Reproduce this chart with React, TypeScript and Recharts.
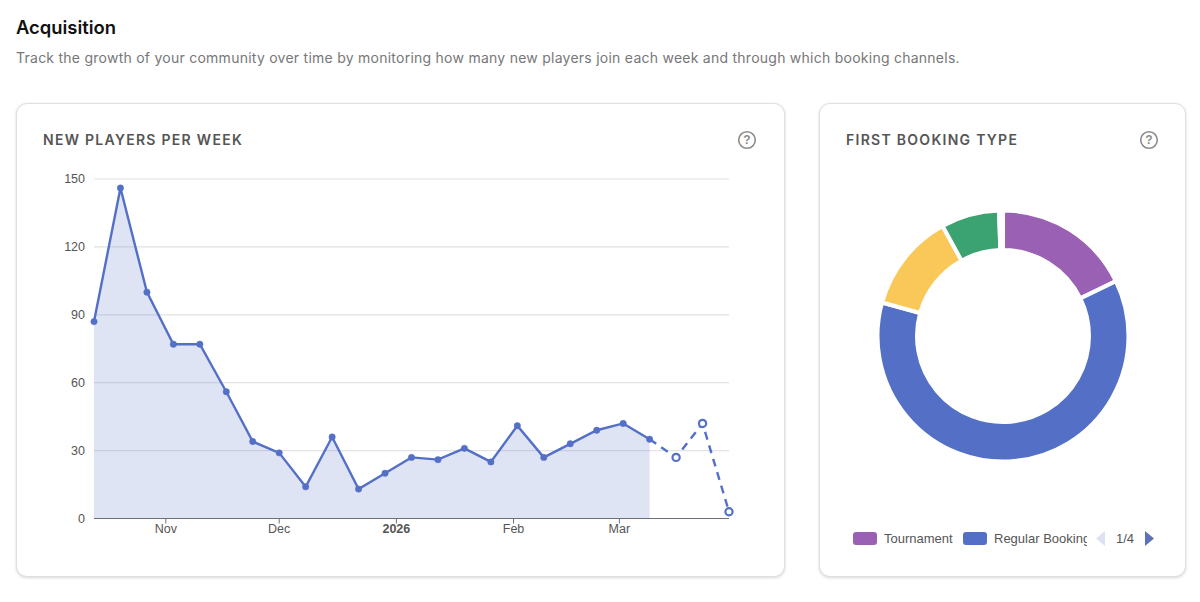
import {
  Area,
  CartesianGrid,
  Cell,
  ComposedChart,
  Line,
  Pie,
  PieChart,
  XAxis,
  YAxis
} from "recharts"

const weeks = [
  "2025-10-13", "2025-10-20", "2025-10-27", "2025-11-03", "2025-11-10",
  "2025-11-17", "2025-11-24", "2025-12-01", "2025-12-08", "2025-12-15",
  "2025-12-22", "2025-12-29", "2026-01-05", "2026-01-12", "2026-01-19",
  "2026-01-26", "2026-02-02", "2026-02-09", "2026-02-16", "2026-02-23",
  "2026-03-02", "2026-03-09", "2026-03-16", "2026-03-23", "2026-03-30",
]
const actualPlayers = [87, 146, 100, 77, 77, 56, 34, 29, 14, 36, 13, 20, 27, 26, 31, 25, 41, 27, 33, 39, 42, 35, null, null, null]
const projectedPlayers = [null, null, null, null, null, null, null, null, null, null, null, null, null, null, null, null, null, null, null, null, null, 35, 27, 42, 3]

const monthTicks = ["2025-11-01", "2025-12-01", "2026-01-01", "2026-02-01", "2026-03-01"]
const monthLabels = ["Nov", "Dec", "2026", "Feb", "Mar"]
const yTicks = [0, 30, 60, 90, 120, 150]

const bookingNames = ["Tournament", "Regular Booking", "Open Match", "Lesson", "Other"]
const bookingValues = [178, 615, 127, 75, 5]
const bookingColors = ["#9a60b4", "#5470c6", "#fac858", "#3ba272", "#ea7ccc"]

const toTime = (d: string) => new Date(d + "T00:00:00Z").getTime()

const playerData = weeks.map((w, i) => ({
  date: toTime(w),
  actual: actualPlayers[i],
  projected: projectedPlayers[i],
}))
const bookingData = bookingNames.map((name, i) => ({ name, value: bookingValues[i] }))
const tickTimes = monthTicks.map(toTime)

const FONT = "Inter, sans-serif"
const AXIS_FONT = "'Liberation Sans', Arial, sans-serif"
const BLUE = "#5470c6"

const cardStyle = (left: number, width: number): React.CSSProperties => ({
  position: "absolute",
  left,
  top: 103,
  width,
  height: 474,
  boxSizing: "border-box",
  background: "#fff",
  border: "1px solid #e0e0e0",
  borderRadius: 11,
  boxShadow: "0 1px 3px rgba(0,0,0,0.16)",
})

const cardTitle: React.CSSProperties = {
  position: "absolute",
  top: 27,
  fontFamily: FONT,
  fontSize: 14,
  lineHeight: "18px",
  fontWeight: 600,
  letterSpacing: 1.28,
  color: "#555",
  whiteSpace: "nowrap",
}

function HelpIcon({ left }: { left: number }) {
  return (
    <svg width={20} height={20} style={{ position: "absolute", left, top: 26 }}>
      <circle cx={10} cy={10} r={8.3} fill="none" stroke="#8c8c8c" strokeWidth={1.6} />
      <text x={10} y={14.2} textAnchor="middle" fontFamily={AXIS_FONT} fontSize={12} fontWeight={700} fill="#8c8c8c">?</text>
    </svg>
  )
}

function MonthTick({ x, y, payload }: any) {
  const label = monthLabels[tickTimes.indexOf(payload.value)]
  return (
    <text
      x={x}
      y={y + 4}
      textAnchor="middle"
      fontFamily={AXIS_FONT}
      fontSize={12.5}
      fontWeight={label === "2026" ? 700 : 400}
      fill="#555"
    >
      {label}
    </text>
  )
}

// the first projected point is where the actual line ends, so it keeps the filled dot
function ProjectedDot({ cx, cy, index }: any) {
  if (playerData[index].actual != null) return <g key={index} />
  return <circle key={index} cx={cx} cy={cy} r={3.6} fill="#fff" stroke={BLUE} strokeWidth={2.2} />
}

function NewPlayersChart() {
  return (
    <ComposedChart
      width={768}
      height={474}
      data={playerData}
      margin={{ top: 76, right: 55, bottom: 28.5, left: 38 }}
      style={{ position: "absolute", left: -1, top: -1 }}
    >
      <CartesianGrid horizontal vertical={false} stroke="#e2e2e6" strokeWidth={1.2} />
      <XAxis
        dataKey="date"
        type="number"
        scale="time"
        domain={["dataMin", "dataMax"]}
        ticks={tickTimes}
        interval={0}
        height={30}
        tick={<MonthTick />}
        tickSize={5}
        tickMargin={5}
        stroke="#6e7079"
      />
      <YAxis
        domain={[0, 150]}
        ticks={yTicks}
        width={40}
        axisLine={false}
        tickLine={false}
        tickSize={0}
        tickMargin={9}
        tick={{ fill: "#555", fontSize: 12.5, fontFamily: AXIS_FONT }}
      />
      <Line
        dataKey="projected"
        stroke={BLUE}
        strokeWidth={2.4}
        strokeDasharray="8 6"
        dot={(props: any) => <ProjectedDot key={props.index} {...props} />}
        isAnimationActive={false}
      />
      <Area
        dataKey="actual"
        type="linear"
        stroke={BLUE}
        strokeWidth={2.4}
        fill={BLUE}
        fillOpacity={0.19}
        dot={{ r: 3.2, fill: BLUE, stroke: BLUE, strokeWidth: 0.5, fillOpacity: 1 }}
        isAnimationActive={false}
      />
    </ComposedChart>
  )
}

function BookingDonut() {
  return (
    <PieChart
      width={365}
      height={474}
      margin={{ top: 0, right: 0, bottom: 0, left: 0 }}
      style={{ position: "absolute", left: -1, top: -1 }}
    >
      <Pie
        data={bookingData}
        dataKey="value"
        nameKey="name"
        cx={184}
        cy={233}
        innerRadius={86}
        outerRadius={125.5}
        startAngle={90}
        endAngle={-270}
        stroke="#fff"
        strokeWidth={4}
        isAnimationActive={false}
      >
        {bookingData.map((d, i) => (
          <Cell key={d.name} fill={bookingColors[i]} stroke="#fff" strokeWidth={4} />
        ))}
      </Pie>
    </PieChart>
  )
}

function BookingLegend() {
  const swatchLefts = [33, 143]
  const labelWidths = [72, 93]
  return (
    <div style={{ position: "absolute", left: 0, top: 425.5, width: 365, height: 16, fontFamily: AXIS_FONT, fontSize: 13, color: "#555" }}>
      {swatchLefts.map((left, i) => (
        <div key={i}>
          <div style={{ position: "absolute", left, top: 2, width: 24, height: 13, borderRadius: 3, background: bookingColors[i] }} />
          <div style={{ position: "absolute", left: left + 31, top: 1, width: labelWidths[i], lineHeight: "15px", overflow: "hidden", whiteSpace: "nowrap" }}>
            {bookingNames[i]}
          </div>
        </div>
      ))}
      <svg width={70} height={18} style={{ position: "absolute", left: 274, top: 0 }}>
        <polygon points="11,1 11,16 2,8.5" fill="#dde1f0" />
        <polygon points="51,1 51,16 60,8.5" fill="#5f72b8" />
      </svg>
      <div style={{ position: "absolute", left: 296, top: 1, lineHeight: "15px" }}>1/4</div>
    </div>
  )
}

export default function App() {
  return (
    <div style={{ position: "absolute", left: 0, top: 0, width: 1200, height: 602, background: "#fff", overflow: "hidden" }}>
      <div style={{ position: "absolute", left: 16, top: 16, fontFamily: FONT, fontSize: 18.4, lineHeight: "22px", fontWeight: 600, color: "#111" }}>
        Acquisition
      </div>
      <div style={{ position: "absolute", left: 16, top: 49, fontFamily: FONT, fontSize: 14, lineHeight: "18px", letterSpacing: 0.25, color: "#777", whiteSpace: "nowrap" }}>
        Track the growth of your community over time by monitoring how many new players join each week and through which booking channels.
      </div>

      <div style={cardStyle(16, 769)}>
        <div style={{ ...cardTitle, left: 26 }}>NEW PLAYERS PER WEEK</div>
        <HelpIcon left={720} />
        <NewPlayersChart />
      </div>

      <div style={cardStyle(819, 367)}>
        <div style={{ ...cardTitle, left: 26 }}>FIRST BOOKING TYPE</div>
        <HelpIcon left={319} />
        <BookingDonut />
        <BookingLegend />
      </div>
    </div>
  )
}
